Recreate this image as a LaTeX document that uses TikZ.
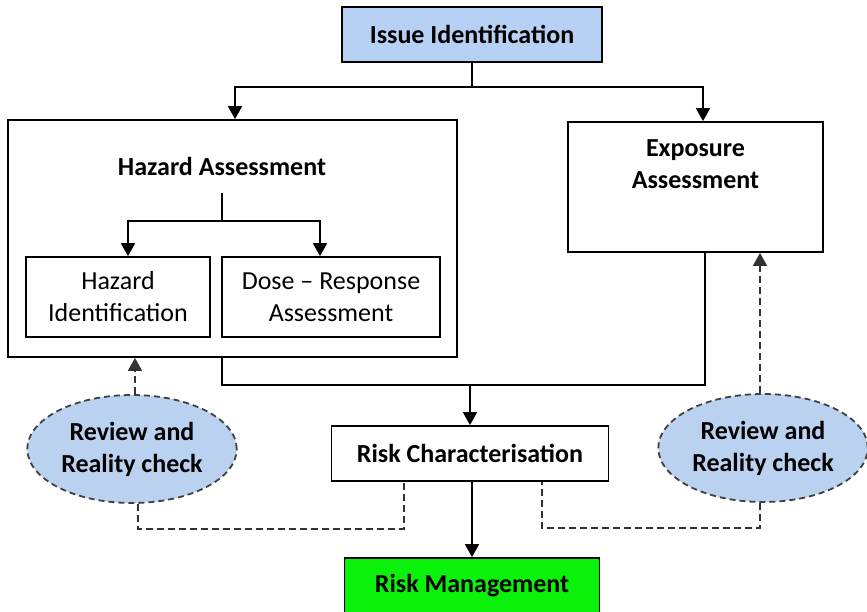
\documentclass[tikz,border=0pt]{standalone}
\usepackage{fontspec}
\setmainfont{Carlito}
\usetikzlibrary{shapes.geometric, arrows.meta}
\usetikzlibrary{positioning}
\definecolor{issueblue}{RGB}{183,209,244}
\definecolor{reviewblue}{RGB}{186,210,240}
\definecolor{mgmtgreen}{RGB}{10,242,10}
\tikzset{font={\fontsize{26}{32}\selectfont}}
\tikzset{
	box/.style={rectangle, draw, line width=1.8pt, align=center, inner sep=0pt},
	review/.style={ellipse, draw=black!75, line width=1.8pt, dash pattern=on 6pt off 4pt, fill=reviewblue, align=center, font={\fontsize{26}{32}\selectfont\bfseries}, minimum width=208pt, minimum height=108pt},
	flow/.style={line width=1.8pt, -{Triangle[width=14pt,length=13pt]}},
	link/.style={line width=1.8pt},
	check/.style={line width=1.8pt, draw=black!80, dash pattern=on 7pt off 4pt},
	checkflow/.style={check, -{Triangle[width=14pt,length=13pt]}}
}

\begin{document}
\begin{tikzpicture}[x=1pt, y=-1pt]

	\useasboundingbox (0,0) rectangle (867,611);

	\node (issue) [box, fill=issueblue, minimum width=260pt, minimum height=55pt, font={\fontsize{26}{32}\selectfont\bfseries}] at (472,34.5) {Issue Identification};

	% hazard block with its two parts
	\node (hazard) [box, minimum width=449pt, minimum height=237pt] at (232.5,238.5) {};

	\node (hazard_lbl) [font={\fontsize{26}{32}\selectfont\bfseries}] at (222,166) {Hazard Assessment};

	\node (hazard_id) [box, minimum width=184pt, minimum height=80pt] at (118,297) {Hazard\\Identification};

	\node (dose) [box, minimum width=218pt, minimum height=80pt] at (331,297) {Dose -- Response\\Assessment};

	\node (exposure) [box, minimum width=255pt, minimum height=130pt] at (695.5,187) {};

	\node (exposure_lbl) [align=center, font={\fontsize{26}{32}\selectfont\bfseries}] at (695.5,164) {Exposure\\Assessment};

	\node (risk_char) [box, minimum width=277pt, minimum height=55pt, font={\fontsize{26}{32}\selectfont\bfseries}] at (470,453.5) {Risk Characterisation};

	\node (risk_mgmt) [box, fill=mgmtgreen, minimum width=255pt, minimum height=56pt, font={\fontsize{26}{32}\selectfont\bfseries}] at (472,586) {Risk Management};

	\node (review_l) [review] at (132,449) {Review and\\Reality check};

	\node (review_r) [review] at (763,448) {Review and\\Reality check};

	
	\coordinate (split) at (472,87);

	\coordinate (hazard_split) at (222,221);

	\coordinate (join) at (470,385);

	
	\draw[link] (issue.south) -- (split);

	\draw[flow] (split) -| ([xshift=2.5pt]hazard.north);

	\draw[flow] (split) -| ([xshift=7.5pt]exposure.north);

	
	\draw[link] ([yshift=-14pt]hazard_lbl.south) -- (hazard_split);

	\draw[flow] (hazard_split) -| ([xshift=10pt]hazard_id.north);

	\draw[flow] (hazard_split) -| ([xshift=-11pt]dose.north);

	
	\draw[link] ([xshift=-10.5pt]hazard.south) |- (join) -| ([xshift=9.5pt]exposure.south);

	\draw[flow] (join) -- (risk_char.north);

	\draw[flow] ([xshift=2pt]risk_char.south) -- ([xshift=2pt]risk_char.south |- risk_mgmt.north);

	
	\draw[checkflow] ([xshift=3pt]review_l.north) -- ([xshift=3pt]review_l.north |- hazard.south);

	\draw[check] ([xshift=6pt]review_l.south) -- ++(0,25) -| ([xshift=-66pt]risk_char.south);

	\draw[checkflow] ([xshift=-3pt]review_r.north) -- ([xshift=-3pt]review_r.north |- exposure.south);

	\draw[check] ([xshift=-3pt]review_r.south) -- ++(0,25) -| ([xshift=72pt]risk_char.south);

\end{tikzpicture}
\end{document}
